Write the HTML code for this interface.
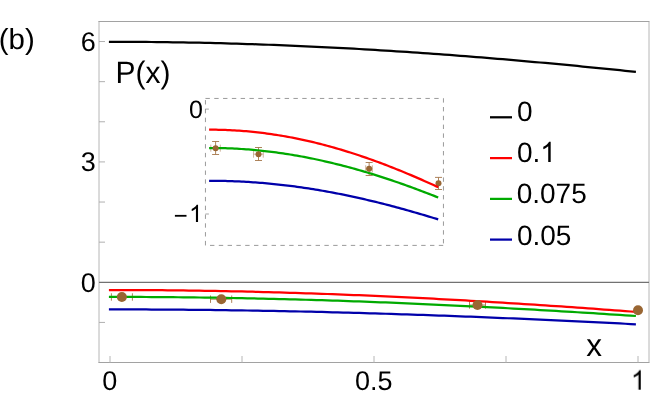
<!DOCTYPE html>
<html><head><meta charset="utf-8">
<style>
html,body{margin:0;padding:0;background:#fff;}
svg{display:block;}
text{font-family:"Liberation Sans",sans-serif;fill:#000;text-rendering:geometricPrecision;}
</style></head>
<body>
<svg width="660" height="396" viewBox="0 0 660 396">
<rect width="660" height="396" fill="#fff"/>
<!-- frame -->
<path d="M99,21 V363 M649,21 V363" stroke="#b6b6b6" stroke-width="1" fill="none"/>
<path d="M98.5,21.5 H649.3 M98.5,362.5 H649.3" stroke="#a2a2a2" stroke-width="1" fill="none"/>
<path d="M99,41.52 h6 M99,81.65 h6 M99,121.78 h6 M99,161.91 h6 M99,202.04 h6 M99,242.17 h6 M99,322.43 h6 " stroke="#a8a8a8" stroke-width="0.9" fill="none"/>
<path d="M110.00,362.5 V356 M242.00,362.5 V356 M374.00,362.5 V356 M506.00,362.5 V356 M638.00,362.5 V356 " stroke="#b6b6b6" stroke-width="1" fill="none"/>
<!-- zero axis -->
<path d="M99,282.3 H649" stroke="#727272" stroke-width="1.3" fill="none"/>
<!-- main curves -->
<path d="M108.90,41.80 L114.22,41.80 L119.55,41.81 L124.87,41.83 L130.19,41.85 L135.52,41.88 L140.84,41.91 L146.16,41.95 L151.49,42.00 L156.81,42.06 L162.13,42.12 L167.46,42.19 L172.78,42.27 L178.10,42.35 L183.43,42.44 L188.75,42.53 L194.07,42.63 L199.39,42.74 L204.72,42.86 L210.04,42.98 L215.36,43.11 L220.69,43.24 L226.01,43.39 L231.33,43.53 L236.66,43.69 L241.98,43.85 L247.30,44.02 L252.63,44.19 L257.95,44.37 L263.27,44.56 L268.60,44.75 L273.92,44.95 L279.24,45.16 L284.57,45.37 L289.89,45.59 L295.21,45.82 L300.54,46.05 L305.86,46.29 L311.18,46.53 L316.51,46.78 L321.83,47.04 L327.15,47.30 L332.48,47.57 L337.80,47.84 L343.12,48.13 L348.45,48.41 L353.77,48.71 L359.09,49.00 L364.42,49.31 L369.74,49.62 L375.06,49.94 L380.38,50.26 L385.71,50.59 L391.03,50.92 L396.35,51.26 L401.68,51.61 L407.00,51.96 L412.32,52.32 L417.65,52.68 L422.97,53.05 L428.29,53.43 L433.62,53.81 L438.94,54.19 L444.26,54.58 L449.59,54.98 L454.91,55.38 L460.23,55.79 L465.56,56.20 L470.88,56.62 L476.20,57.04 L481.53,57.47 L486.85,57.90 L492.17,58.34 L497.50,58.78 L502.82,59.23 L508.14,59.68 L513.47,60.14 L518.79,60.60 L524.11,61.07 L529.44,61.54 L534.76,62.02 L540.08,62.50 L545.41,62.98 L550.73,63.47 L556.05,63.97 L561.37,64.47 L566.70,64.97 L572.02,65.48 L577.34,65.99 L582.67,66.51 L587.99,67.03 L593.31,67.56 L598.64,68.09 L603.96,68.62 L609.28,69.16 L614.61,69.70 L619.93,70.24 L625.25,70.79 L630.58,71.34 L635.90,71.90" stroke="#000000" stroke-width="2.25" fill="none"/>
<path d="M111.4,297.0 H132.4 M111.4,293.3 V300.7 M132.4,293.3 V300.7" stroke="#a5764a" stroke-width="0.9" fill="none"/>
<path d="M210.5,299.2 H231.7 M210.5,295.5 V302.9 M231.7,295.5 V302.9" stroke="#a5764a" stroke-width="0.9" fill="none"/>
<path d="M469.5,305.0 H485.5 M469.5,301.3 V308.7 M485.5,301.3 V308.7" stroke="#a5764a" stroke-width="0.9" fill="none"/>
<path d="M108.90,309.40 L114.22,309.40 L119.55,309.41 L124.87,309.41 L130.19,309.42 L135.52,309.44 L140.84,309.46 L146.16,309.48 L151.49,309.50 L156.81,309.53 L162.13,309.56 L167.46,309.59 L172.78,309.63 L178.10,309.67 L183.43,309.72 L188.75,309.76 L194.07,309.81 L199.39,309.87 L204.72,309.92 L210.04,309.98 L215.36,310.05 L220.69,310.11 L226.01,310.18 L231.33,310.26 L236.66,310.33 L241.98,310.41 L247.30,310.50 L252.63,310.58 L257.95,310.67 L263.27,310.77 L268.60,310.86 L273.92,310.96 L279.24,311.06 L284.57,311.17 L289.89,311.28 L295.21,311.39 L300.54,311.50 L305.86,311.62 L311.18,311.74 L316.51,311.87 L321.83,311.99 L327.15,312.12 L332.48,312.26 L337.80,312.39 L343.12,312.53 L348.45,312.67 L353.77,312.82 L359.09,312.97 L364.42,313.12 L369.74,313.27 L375.06,313.43 L380.38,313.59 L385.71,313.75 L391.03,313.92 L396.35,314.09 L401.68,314.26 L407.00,314.43 L412.32,314.61 L417.65,314.79 L422.97,314.97 L428.29,315.16 L433.62,315.34 L438.94,315.53 L444.26,315.73 L449.59,315.92 L454.91,316.12 L460.23,316.32 L465.56,316.53 L470.88,316.73 L476.20,316.94 L481.53,317.15 L486.85,317.37 L492.17,317.59 L497.50,317.81 L502.82,318.03 L508.14,318.25 L513.47,318.48 L518.79,318.71 L524.11,318.94 L529.44,319.17 L534.76,319.41 L540.08,319.65 L545.41,319.89 L550.73,320.13 L556.05,320.37 L561.37,320.62 L566.70,320.87 L572.02,321.12 L577.34,321.38 L582.67,321.63 L587.99,321.89 L593.31,322.15 L598.64,322.41 L603.96,322.68 L609.28,322.94 L614.61,323.21 L619.93,323.48 L625.25,323.75 L630.58,324.02 L635.90,324.30" stroke="#0000aa" stroke-width="2.25" fill="none"/>
<path d="M108.90,296.90 L114.22,296.90 L119.55,296.91 L124.87,296.92 L130.19,296.93 L135.52,296.95 L140.84,296.97 L146.16,297.00 L151.49,297.03 L156.81,297.06 L162.13,297.10 L167.46,297.15 L172.78,297.20 L178.10,297.25 L183.43,297.30 L188.75,297.36 L194.07,297.43 L199.39,297.50 L204.72,297.57 L210.04,297.65 L215.36,297.73 L220.69,297.82 L226.01,297.91 L231.33,298.00 L236.66,298.10 L241.98,298.20 L247.30,298.31 L252.63,298.42 L257.95,298.53 L263.27,298.65 L268.60,298.77 L273.92,298.90 L279.24,299.03 L284.57,299.17 L289.89,299.31 L295.21,299.45 L300.54,299.60 L305.86,299.75 L311.18,299.90 L316.51,300.06 L321.83,300.22 L327.15,300.39 L332.48,300.56 L337.80,300.74 L343.12,300.91 L348.45,301.10 L353.77,301.28 L359.09,301.47 L364.42,301.67 L369.74,301.86 L375.06,302.06 L380.38,302.27 L385.71,302.48 L391.03,302.69 L396.35,302.91 L401.68,303.13 L407.00,303.35 L412.32,303.58 L417.65,303.81 L422.97,304.04 L428.29,304.28 L433.62,304.52 L438.94,304.76 L444.26,305.01 L449.59,305.26 L454.91,305.52 L460.23,305.77 L465.56,306.04 L470.88,306.30 L476.20,306.57 L481.53,306.84 L486.85,307.12 L492.17,307.39 L497.50,307.67 L502.82,307.96 L508.14,308.25 L513.47,308.54 L518.79,308.83 L524.11,309.13 L529.44,309.43 L534.76,309.73 L540.08,310.03 L545.41,310.34 L550.73,310.65 L556.05,310.97 L561.37,311.28 L566.70,311.60 L572.02,311.93 L577.34,312.25 L582.67,312.58 L587.99,312.91 L593.31,313.24 L598.64,313.58 L603.96,313.92 L609.28,314.26 L614.61,314.60 L619.93,314.95 L625.25,315.30 L630.58,315.65 L635.90,316.00" stroke="#00aa00" stroke-width="2.25" fill="none"/>
<path d="M108.90,290.00 L114.22,290.00 L119.55,290.01 L124.87,290.02 L130.19,290.04 L135.52,290.06 L140.84,290.08 L146.16,290.11 L151.49,290.15 L156.81,290.19 L162.13,290.23 L167.46,290.28 L172.78,290.34 L178.10,290.40 L183.43,290.46 L188.75,290.53 L194.07,290.61 L199.39,290.69 L204.72,290.77 L210.04,290.86 L215.36,290.95 L220.69,291.05 L226.01,291.15 L231.33,291.26 L236.66,291.37 L241.98,291.49 L247.30,291.61 L252.63,291.74 L257.95,291.87 L263.27,292.01 L268.60,292.15 L273.92,292.29 L279.24,292.44 L284.57,292.60 L289.89,292.76 L295.21,292.92 L300.54,293.09 L305.86,293.26 L311.18,293.44 L316.51,293.62 L321.83,293.81 L327.15,294.00 L332.48,294.20 L337.80,294.40 L343.12,294.60 L348.45,294.81 L353.77,295.02 L359.09,295.24 L364.42,295.46 L369.74,295.69 L375.06,295.92 L380.38,296.16 L385.71,296.40 L391.03,296.64 L396.35,296.89 L401.68,297.14 L407.00,297.39 L412.32,297.65 L417.65,297.92 L422.97,298.19 L428.29,298.46 L433.62,298.74 L438.94,299.02 L444.26,299.30 L449.59,299.59 L454.91,299.88 L460.23,300.18 L465.56,300.48 L470.88,300.78 L476.20,301.09 L481.53,301.40 L486.85,301.71 L492.17,302.03 L497.50,302.35 L502.82,302.68 L508.14,303.01 L513.47,303.34 L518.79,303.68 L524.11,304.02 L529.44,304.36 L534.76,304.71 L540.08,305.06 L545.41,305.41 L550.73,305.77 L556.05,306.13 L561.37,306.49 L566.70,306.86 L572.02,307.23 L577.34,307.60 L582.67,307.98 L587.99,308.36 L593.31,308.74 L598.64,309.12 L603.96,309.51 L609.28,309.90 L614.61,310.30 L619.93,310.69 L625.25,311.09 L630.58,311.50 L635.90,311.90" stroke="#ff0000" stroke-width="2.25" fill="none"/>
<circle cx="121.85" cy="297.0" r="5" fill="#996633"/>
<circle cx="221.3" cy="299.2" r="5" fill="#996633"/>
<circle cx="477.5" cy="305.0" r="5" fill="#996633"/>
<circle cx="638.0" cy="310.3" r="5" fill="#996633"/>
<!-- inset -->
<g fill="none" stroke="#808080" stroke-width="0.8" stroke-dasharray="4.4 4.4">
<path d="M205.45,98.45 H443.45"/>
<path d="M443.45,98.45 V245.4" stroke-dashoffset="0.25"/>
<path d="M205.45,245.4 H443.45" stroke-dashoffset="4.25"/>
<path d="M205.45,98.45 V245.4" stroke-dashoffset="7.15"/>
</g>
<path d="M205.4,109.1 h3.5 M205.4,214.0 h3.5" stroke="#909090" stroke-width="0.8" fill="none"/>
<path d="M215.6,141.5 V154.5 M212.1,141.5 H219.1 M212.1,154.5 H219.1" stroke="#a5764a" stroke-width="0.9" fill="none"/>
<path d="M210.8,148.15 H220.3 M210.8,144.65 V151.65 M220.3,144.65 V151.65" stroke="#a5764a" stroke-width="0.9" fill="none" opacity="0.6"/>
<path d="M258.5,147.5 V160.5 M255.0,147.5 H262.0 M255.0,160.5 H262.0" stroke="#a5764a" stroke-width="0.9" fill="none"/>
<path d="M253.55,154.15 H263.25 M253.55,150.65 V157.65 M263.25,150.65 V157.65" stroke="#a5764a" stroke-width="0.9" fill="none" opacity="0.6"/>
<path d="M369.15,162.5 V175.5 M365.65,162.5 H372.65 M365.65,175.5 H372.65" stroke="#a5764a" stroke-width="0.9" fill="none"/>
<path d="M365.7,168.8 H372.4 M365.7,165.3 V172.3 M372.4,165.3 V172.3" stroke="#a5764a" stroke-width="0.9" fill="none" opacity="0.6"/>
<path d="M438.5,177.4 V189.5 M435.0,177.4 H442.0 M435.0,189.5 H442.0" stroke="#a5764a" stroke-width="0.9" fill="none"/>
<path d="M209.10,180.80 L211.41,180.80 L213.73,180.81 L216.04,180.82 L218.36,180.85 L220.67,180.88 L222.98,180.93 L225.30,180.98 L227.61,181.04 L229.93,181.11 L232.24,181.18 L234.56,181.27 L236.87,181.36 L239.18,181.47 L241.50,181.58 L243.81,181.70 L246.13,181.83 L248.44,181.96 L250.75,182.11 L253.07,182.26 L255.38,182.43 L257.70,182.60 L260.01,182.78 L262.33,182.97 L264.64,183.16 L266.95,183.37 L269.27,183.58 L271.58,183.80 L273.90,184.03 L276.21,184.27 L278.52,184.52 L280.84,184.77 L283.15,185.04 L285.47,185.31 L287.78,185.59 L290.09,185.88 L292.41,186.17 L294.72,186.48 L297.04,186.79 L299.35,187.11 L301.67,187.44 L303.98,187.78 L306.29,188.12 L308.61,188.47 L310.92,188.83 L313.24,189.20 L315.55,189.58 L317.86,189.96 L320.18,190.35 L322.49,190.75 L324.81,191.16 L327.12,191.57 L329.44,191.99 L331.75,192.42 L334.06,192.86 L336.38,193.31 L338.69,193.76 L341.01,194.22 L343.32,194.68 L345.63,195.16 L347.95,195.64 L350.26,196.13 L352.58,196.62 L354.89,197.12 L357.21,197.63 L359.52,198.15 L361.83,198.67 L364.15,199.20 L366.46,199.74 L368.78,200.28 L371.09,200.83 L373.40,201.39 L375.72,201.95 L378.03,202.52 L380.35,203.09 L382.66,203.68 L384.97,204.27 L387.29,204.86 L389.60,205.46 L391.92,206.07 L394.23,206.68 L396.55,207.30 L398.86,207.93 L401.17,208.56 L403.49,209.19 L405.80,209.84 L408.12,210.49 L410.43,211.14 L412.74,211.80 L415.06,212.46 L417.37,213.13 L419.69,213.81 L422.00,214.49 L424.32,215.18 L426.63,215.87 L428.94,216.57 L431.26,217.27 L433.57,217.97 L435.89,218.68 L438.20,219.40" stroke="#0000aa" stroke-width="2.25" fill="none"/>
<path d="M209.10,148.00 L211.41,148.00 L213.73,148.01 L216.04,148.03 L218.36,148.06 L220.67,148.11 L222.98,148.16 L225.30,148.23 L227.61,148.30 L229.93,148.39 L232.24,148.49 L234.56,148.60 L236.87,148.72 L239.18,148.85 L241.50,149.00 L243.81,149.15 L246.13,149.32 L248.44,149.49 L250.75,149.68 L253.07,149.88 L255.38,150.08 L257.70,150.30 L260.01,150.54 L262.33,150.78 L264.64,151.03 L266.95,151.29 L269.27,151.57 L271.58,151.85 L273.90,152.15 L276.21,152.45 L278.52,152.77 L280.84,153.10 L283.15,153.43 L285.47,153.78 L287.78,154.14 L290.09,154.51 L292.41,154.89 L294.72,155.28 L297.04,155.68 L299.35,156.09 L301.67,156.51 L303.98,156.95 L306.29,157.39 L308.61,157.84 L310.92,158.30 L313.24,158.77 L315.55,159.26 L317.86,159.75 L320.18,160.25 L322.49,160.76 L324.81,161.28 L327.12,161.81 L329.44,162.36 L331.75,162.91 L334.06,163.47 L336.38,164.04 L338.69,164.62 L341.01,165.20 L343.32,165.80 L345.63,166.41 L347.95,167.03 L350.26,167.65 L352.58,168.29 L354.89,168.93 L357.21,169.58 L359.52,170.25 L361.83,170.92 L364.15,171.60 L366.46,172.28 L368.78,172.98 L371.09,173.69 L373.40,174.40 L375.72,175.12 L378.03,175.85 L380.35,176.59 L382.66,177.34 L384.97,178.09 L387.29,178.85 L389.60,179.63 L391.92,180.40 L394.23,181.19 L396.55,181.98 L398.86,182.79 L401.17,183.60 L403.49,184.41 L405.80,185.24 L408.12,186.07 L410.43,186.91 L412.74,187.75 L415.06,188.61 L417.37,189.47 L419.69,190.33 L422.00,191.21 L424.32,192.09 L426.63,192.97 L428.94,193.86 L431.26,194.76 L433.57,195.67 L435.89,196.58 L438.20,197.50" stroke="#00aa00" stroke-width="2.25" fill="none"/>
<circle cx="215.6" cy="148.15" r="3" fill="#996633"/>
<circle cx="258.5" cy="154.15" r="3" fill="#996633"/>
<circle cx="369.15" cy="168.8" r="3" fill="#996633"/>
<circle cx="438.5" cy="183.2" r="3" fill="#996633"/>
<path d="M209.10,129.70 L211.41,129.70 L213.73,129.71 L216.04,129.74 L218.36,129.77 L220.67,129.82 L222.98,129.89 L225.30,129.96 L227.61,130.05 L229.93,130.15 L232.24,130.27 L234.56,130.40 L236.87,130.54 L239.18,130.69 L241.50,130.86 L243.81,131.04 L246.13,131.23 L248.44,131.43 L250.75,131.65 L253.07,131.88 L255.38,132.12 L257.70,132.38 L260.01,132.64 L262.33,132.93 L264.64,133.22 L266.95,133.52 L269.27,133.84 L271.58,134.17 L273.90,134.52 L276.21,134.87 L278.52,135.24 L280.84,135.62 L283.15,136.01 L285.47,136.42 L287.78,136.83 L290.09,137.26 L292.41,137.70 L294.72,138.16 L297.04,138.62 L299.35,139.10 L301.67,139.59 L303.98,140.09 L306.29,140.60 L308.61,141.13 L310.92,141.67 L313.24,142.21 L315.55,142.78 L317.86,143.35 L320.18,143.93 L322.49,144.52 L324.81,145.13 L327.12,145.75 L329.44,146.38 L331.75,147.02 L334.06,147.67 L336.38,148.33 L338.69,149.00 L341.01,149.69 L343.32,150.38 L345.63,151.09 L347.95,151.80 L350.26,152.53 L352.58,153.27 L354.89,154.01 L357.21,154.77 L359.52,155.54 L361.83,156.32 L364.15,157.11 L366.46,157.91 L368.78,158.72 L371.09,159.54 L373.40,160.37 L375.72,161.20 L378.03,162.05 L380.35,162.91 L382.66,163.78 L384.97,164.66 L387.29,165.54 L389.60,166.44 L391.92,167.34 L394.23,168.25 L396.55,169.18 L398.86,170.11 L401.17,171.05 L403.49,172.00 L405.80,172.96 L408.12,173.92 L410.43,174.90 L412.74,175.88 L415.06,176.87 L417.37,177.87 L419.69,178.87 L422.00,179.89 L424.32,180.91 L426.63,181.94 L428.94,182.98 L431.26,184.02 L433.57,185.07 L435.89,186.13 L438.20,187.20" stroke="#ff0000" stroke-width="2.25" fill="none"/>
<!-- legend -->
<path d="M490,117.3 H512" stroke="#000" stroke-width="2.25"/>
<path d="M490,158.1 H512" stroke="#ff0000" stroke-width="2.25"/>
<path d="M490,198.9 H512" stroke="#00aa00" stroke-width="2.25"/>
<path d="M490,239.6 H512" stroke="#0000aa" stroke-width="2.25"/>
<g style="filter:opacity(1)">
<g font-size="28">
<text x="516.9" y="121.4">0</text>
<text x="516.9" y="162.0">0.</text><path d="M763 0H583V1147Q518 1085 412.5 1023T223 930V1104Q374 1175 487 1276T647 1472H763Z" transform="translate(540.25,161.90) scale(0.01367,-0.01367)" fill="#000"/>
<text x="516.7" y="203.0">0.075</text>
<text x="516.9" y="244.6">0.05</text>
</g>
<!-- labels -->
<text x="-1.2" y="48.6" font-size="29" textLength="36" lengthAdjust="spacingAndGlyphs">(b)</text>
<g font-size="27">
<text x="95.9" y="51.2" text-anchor="end">6</text>
<text x="95.9" y="171.4" text-anchor="end">3</text>
<text x="95.9" y="291.7" text-anchor="end">0</text>
<text x="109.7" y="389.7" text-anchor="middle">0</text>
<text x="373.8" y="389.7" text-anchor="middle">0.5</text>
<path d="M763 0H583V1147Q518 1085 412.5 1023T223 930V1104Q374 1175 487 1276T647 1472H763Z" transform="translate(630.79,389.70) scale(0.01318,-0.01318)" fill="#000"/>
</g>
<g font-size="25">
<text x="202.9" y="117.8" text-anchor="end">0</text>
<path d="M763 0H583V1147Q518 1085 412.5 1023T223 930V1104Q374 1175 487 1276T647 1472H763Z" transform="translate(189.10,221.90) scale(0.01172,-0.01172)" fill="#000"/><rect x="174.9" y="214.9" width="11.6" height="1.8" fill="#000"/>
</g>
<text x="115.5" y="83.2" font-size="31" textLength="55" lengthAdjust="spacingAndGlyphs">P(x)</text>
<text x="586.2" y="356.3" font-size="31.5">x</text>
</g>
</svg>
</body></html>
